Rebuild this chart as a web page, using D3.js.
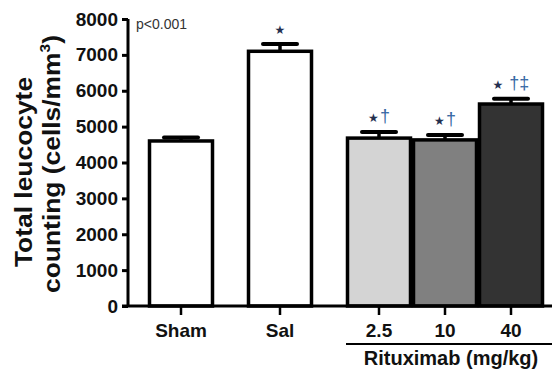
<!DOCTYPE html>
<html>
<head>
<meta charset="utf-8">
<script src="https://cdn.jsdelivr.net/npm/d3@7"></script>
<style>
  html, body { margin: 0; padding: 0; background: #fff; }
  svg { display: block; }
  text { font-family: "Liberation Sans", Arial, sans-serif; }
</style>
</head>
<body>
<svg id="chart" width="552" height="372"></svg>
<script>
// ---- data ----
const categories = ["Sham", "Sal", "2.5", "10", "40"];
const means = [4600, 7100, 4680, 4630, 5630];
const sems = [100, 200, 170, 140, 150];
const fills = ["#ffffff", "#ffffff", "#d4d4d4", "#808080", "#333333"];
const stars = ["", "\u2605", "\u2605", "\u2605", "\u2605"];
const daggers = ["", "", "\u2020", "\u2020", "\u2020\u2021"];
const yTicks = [0, 1000, 2000, 3000, 4000, 5000, 6000, 7000, 8000];
const groupLabel = "Rituximab (mg/kg)";
const pLabel = "p<0.001";
const yLabelLines = ["Total leucocyte", "counting (cells/mm"];

// ---- layout ----
const svg = d3.select("#chart");
// slot index: a half-slot gap after Sham and after Sal
const slot = i => i + (i >= 1 ? 0.5 : 0) + (i >= 2 ? 0.5 : 0);
const x = d3.scaleLinear().domain([0, 5]).range([181, 511]);
const y = d3.scaleLinear().domain([0, 8000]).range([306, 19]);
const halfW = 31.5;

// bars
const g = svg.append("g");
categories.forEach((c, i) => {
  const cx = x(slot(i));
  g.append("line")
    .attr("x1", cx).attr("x2", cx)
    .attr("y1", y(means[i])).attr("y2", y(means[i] + sems[i]))
    .attr("stroke", "#000").attr("stroke-width", 3.5);
  g.append("line")
    .attr("x1", cx - 17).attr("x2", cx + 17)
    .attr("y1", y(means[i] + sems[i])).attr("y2", y(means[i] + sems[i]))
    .attr("stroke", "#000").attr("stroke-width", 4).attr("stroke-linecap", "round");
});
categories.forEach((c, i) => {
  const cx = x(slot(i));
  g.append("rect")
    .attr("x", cx - halfW).attr("width", halfW * 2)
    .attr("y", y(means[i])).attr("height", y(0) - y(means[i]))
    .attr("fill", fills[i]).attr("stroke", "#000").attr("stroke-width", 3.5);
});

// annotations
categories.forEach((c, i) => {
  const cx = x(slot(i));
  const top = y(means[i] + sems[i]);
  if (!stars[i]) return;
  const t = g.append("text")
    .attr("x", cx).attr("y", top - 10)
    .attr("text-anchor", "middle");
  t.append("tspan").attr("font-size", 12).attr("fill", "#24304f").attr("font-family", "DejaVu Sans").text(stars[i]);
  if (daggers[i]) {
    t.append("tspan").attr("font-size", 18).attr("fill", "#3567a3")
      .attr("dx", daggers[i].length === 2 ? 6 : 1).text(daggers[i]);
  }
});

// y axis
const yAxis = svg.append("g").attr("transform", "translate(128,0)")
  .call(d3.axisLeft(y).tickValues(yTicks).tickSize(6).tickPadding(4).tickFormat(d3.format("d")));
yAxis.select(".domain").attr("stroke", "#000").attr("stroke-width", 3).attr("d", `M0,${y(8000)}V${y(0)}`);
yAxis.selectAll(".tick line").attr("stroke", "#000").attr("stroke-width", 3);
yAxis.selectAll(".tick text").attr("font-size", 19).attr("font-weight", "bold").attr("fill", "#111")
  .attr("font-family", "Liberation Sans, Arial, sans-serif");

// x axis
svg.append("line").attr("x1", 122).attr("x2", 552).attr("y1", y(0)).attr("y2", y(0))
  .attr("stroke", "#000").attr("stroke-width", 3);
categories.forEach((c, i) => {
  const cx = x(slot(i));
  svg.append("line").attr("x1", cx).attr("x2", cx).attr("y1", y(0)).attr("y2", y(0) + 9)
    .attr("stroke", "#000").attr("stroke-width", 2.5);
  svg.append("text").attr("x", cx).attr("y", 337).attr("text-anchor", "middle")
    .attr("font-size", 19).attr("font-weight", "bold").attr("fill", "#111").text(c);
});

// group line and label
svg.append("line").attr("x1", x(slot(2)) - 33).attr("x2", 552).attr("y1", 344).attr("y2", 344)
  .attr("stroke", "#000").attr("stroke-width", 2);
svg.append("text").attr("x", 451).attr("y", 365).attr("text-anchor", "middle")
  .attr("font-size", 20).attr("font-weight", "bold").attr("fill", "#111").text(groupLabel);

// p label
svg.append("text").attr("x", 136).attr("y", 29).attr("font-size", 14).attr("fill", "#333").text(pLabel);

// y label (two lines, slightly stretched along the text direction)
const yl1 = svg.append("g").attr("transform", "translate(32,172) rotate(-90) scale(1.1,1)");
yl1.append("text").attr("text-anchor", "middle").attr("font-size", 24).attr("font-weight", "bold")
  .attr("fill", "#111").text(yLabelLines[0]);
const yl2 = svg.append("g").attr("transform", "translate(60,164) rotate(-90) scale(1.1,1)");
const t2 = yl2.append("text").attr("text-anchor", "middle").attr("font-size", 24).attr("font-weight", "bold")
  .attr("fill", "#111");
t2.append("tspan").text(yLabelLines[1]);
t2.append("tspan").attr("font-size", 14).attr("dy", -10).text("3");
t2.append("tspan").attr("dy", 10).text(")");
</script>
</body>
</html>
